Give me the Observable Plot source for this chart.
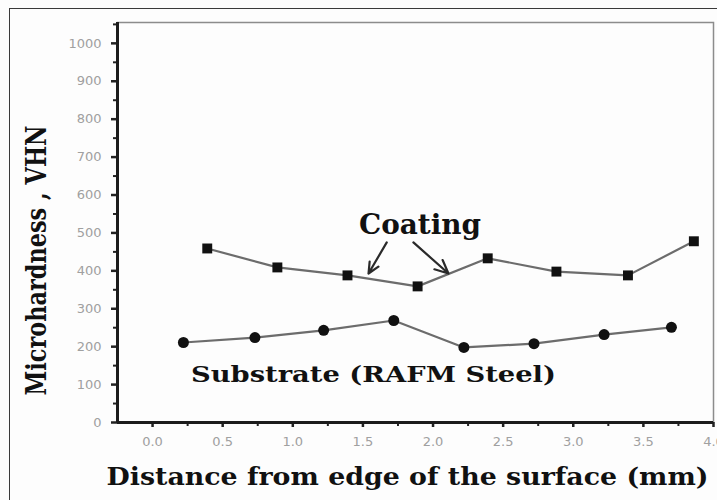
<!DOCTYPE html>
<html>
<head>
<meta charset="utf-8">
<script src="https://cdn.jsdelivr.net/npm/d3@7"></script>
<script src="https://cdn.jsdelivr.net/npm/@observablehq/plot@0.6"></script>
<style>
  html, body { margin: 0; padding: 0; background: #fdfdfd; overflow: hidden; }
  #wrap { position: relative; width: 717px; height: 500px; }
  #chart { position: absolute; left: 0; top: 0; }
  #border { position: absolute; left: 9px; top: 8px; width: 760px; height: 560px;
            border-left: 1.5px solid #3a3a3a; border-top: 1.5px solid #3a3a3a; pointer-events: none; }
</style>
</head>
<body>
<div id="wrap"><div id="chart"></div><div id="border"></div></div>
<script>
// Microhardness profiles across the coated RAFM steel sample
const distCoating = [0.39, 0.89, 1.39, 1.89, 2.39, 2.88, 3.39, 3.86];
const hvCoating = [459, 409, 388, 359, 433, 398, 388, 478];

const distSubstrate = [0.22, 0.73, 1.22, 1.72, 2.22, 2.72, 3.22, 3.70];
const hvSubstrate = [211, 224, 243, 269, 198, 208, 232, 251];

const xTicks = [0, 0.5, 1.0, 1.5, 2.0, 2.5, 3.0, 3.5, 4.0];
const xTickLabels = ["0.0", "0.5", "1.0", "1.5", "2.0", "2.5", "3.0", "3.5", "4.0"];
const yTicks = [0, 100, 200, 300, 400, 500, 600, 700, 800, 900, 1000];
const yTickLabels = ["0", "100", "200", "300", "400", "500", "600", "700", "800", "900", "1000"];

const xTitle = "Distance from edge of the surface (mm)";
const yTitle = "Microhardness , VHN";
const coatingLabel = "Coating";
const substrateLabel = "Substrate (RAFM Steel)";

const coating = distCoating.map((d, i) => ({d, hv: hvCoating[i]}));
const substrate = distSubstrate.map((d, i) => ({d, hv: hvSubstrate[i]}));

// callout arrows from the "Coating" label down to the coating curve
const arrows = [
  {x1: 1.67, y1: 475, x2: 1.54, y2: 393},
  {x1: 1.86, y1: 475, x2: 2.11, y2: 393}
];

const minorX = d3.range(0.25, 4, 0.5);
const minorY = d3.range(50, 1055, 100);

const serif = "'DejaVu Serif', 'Liberation Serif', serif";

const chart = Plot.plot({
  width: 717,
  height: 500,
  marginLeft: 117,
  marginRight: 4,
  marginTop: 22,
  marginBottom: 78,
  style: {background: "transparent", fontFamily: "'DejaVu Sans', sans-serif", overflow: "visible"},
  x: {domain: [-0.25, 4.0]},
  y: {domain: [0, 1055]},
  marks: [
    Plot.frame({stroke: "#8c8c8c", strokeWidth: 1.5}),
    Plot.axisX(minorX, {tickSize: 4, tickFormat: () => "", stroke: "#222", strokeWidth: 2, label: null}),
    Plot.axisX(xTicks, {tickSize: 5, tickPadding: 9, tickFormat: (d, i) => xTickLabels[i],
      fontSize: 13, fill: "#a0a0a0", stroke: "#222", strokeWidth: 2.5, label: null}),
    Plot.axisY(minorY, {tickSize: 4, tickFormat: () => "", stroke: "#222", strokeWidth: 2, label: null}),
    Plot.axisY(yTicks, {tickSize: 6, tickPadding: 10, tickFormat: (d, i) => yTickLabels[i],
      fontSize: 13, fill: "#a0a0a0", stroke: "#222", strokeWidth: 2.5, label: null}),
    Plot.ruleX([-0.25], {stroke: "#1c1c1c", strokeWidth: 3}),
    Plot.ruleY([0], {stroke: "#1c1c1c", strokeWidth: 3}),

    Plot.line(coating, {x: "d", y: "hv", stroke: "#6c6c6c", strokeWidth: 2.2}),
    Plot.dot(coating, {x: "d", y: "hv", symbol: "square", r: 5.6, fill: "#111", stroke: null}),
    Plot.line(substrate, {x: "d", y: "hv", stroke: "#6c6c6c", strokeWidth: 2.2}),
    Plot.dot(substrate, {x: "d", y: "hv", symbol: "circle", r: 5.5, fill: "#111", stroke: null}),

    Plot.arrow(arrows, {x1: "x1", y1: "y1", x2: "x2", y2: "y2", stroke: "#2a2a2a",
      strokeWidth: 2.2, headLength: 10, headAngle: 50}),

    Plot.text([coatingLabel], {x: 1.907, y: 521, text: d => d, fontFamily: serif, fontWeight: "bold",
      fontSize: 27, fill: "#111"}),
    Plot.text([substrateLabel], {x: 1.575, y: 126, text: d => d, fontFamily: serif, fontWeight: "bold",
      fontSize: 23, fill: "#111"}),
    Plot.text([xTitle], {frameAnchor: "bottom", dx: -8, dy: 54, textAnchor: "middle", lineAnchor: "middle",
      text: d => d, fontFamily: serif, fontWeight: "bold", fontSize: 25, fill: "#111"}),
    Plot.text([yTitle], {frameAnchor: "left", dx: -80, dy: 38, rotate: -90, textAnchor: "middle",
      lineAnchor: "middle", text: d => d, fontFamily: serif, fontWeight: "bold", fontSize: 28, fill: "#111"})
  ]
});

// fit the bold serif labels to their measured extents
const widths = new Map([[coatingLabel, 122], [substrateLabel, 365], [xTitle, 602], [yTitle, 270]]);
d3.select(chart).selectAll("text").each(function () {
  const w = widths.get(this.textContent);
  if (w) {
    this.setAttribute("textLength", w);
    this.setAttribute("lengthAdjust", "spacingAndGlyphs");
  }
});

document.getElementById("chart").appendChild(chart);
</script>
</body>
</html>
